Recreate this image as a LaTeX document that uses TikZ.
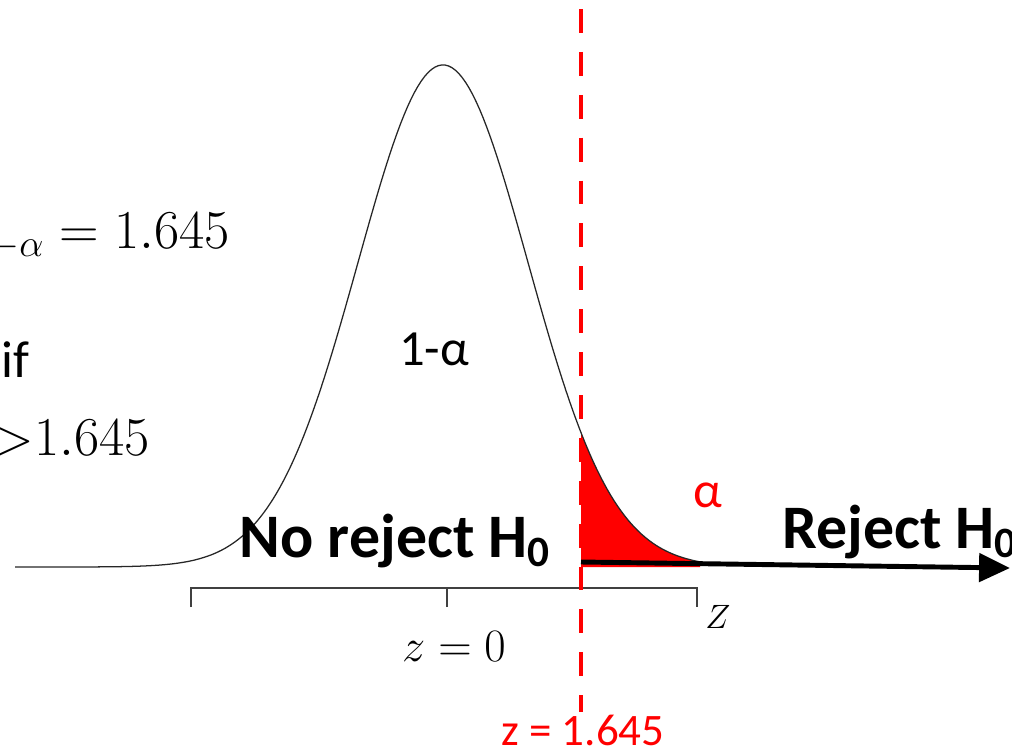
\documentclass[tikz,border=0pt]{standalone}
\usepackage{fix-cm}
\usepackage{fontspec}
\setmainfont{Carlito}
\usetikzlibrary{arrows.meta}

\begin{document}
\begin{tikzpicture}[x=0.025cm, y=-0.025cm,
            curve/.style={draw=black!85, line width=0.9pt},
            tail/.style={fill=red},
            axis/.style={draw=black!75, line width=1.1pt},
            critline/.style={draw=red, line width=3.3pt, dash pattern=on 17pt off 13.5pt},
            rejarrow/.style={draw=black, line width=3.5pt, -{Triangle[length=22pt, width=20pt]}},
            region/.style={font=\fontsize{44}{50}\selectfont\bfseries, inner sep=0pt},
            textlabel/.style={font=\fontsize{36}{42}\selectfont, inner sep=0pt},
            mathlabel/.style={font=\fontsize{33}{40}\selectfont, inner sep=0pt},
            biglabel/.style={font=\fontsize{39}{46}\selectfont, inner sep=0pt}
        ]
        \useasboundingbox (0,0) rectangle (1012,750);
        \clip (0,0) rectangle (1012,750);

        % Kurve
        \fill[tail] plot[domain=581:700, samples=60] (\x,{567-502*exp(-0.5*((\x-443)/85)^2)}) -- (700,567) -- (581,567) -- cycle;
        \draw[curve] plot[domain=15:700, samples=200] (\x,{567-502*exp(-0.5*((\x-443)/85)^2)});

        % Achse
        \coordinate (lo) at (191,607);
        \coordinate (mid) at (447,607);
        \coordinate (hi) at (697,607);
        \draw[axis] (lo) -- (lo |- 0,588) -- (hi |- 0,588) -- (hi);
        \draw[axis] (mid) -- (mid |- 0,588);

        % kritischer Wert
        \coordinate (ctop) at (581,9);
        \coordinate (cbot) at (581,712);
        \draw[critline] (ctop) -- (cbot);
        \coordinate (rstart) at (581,562);
        \coordinate (rend) at (1010,568);
        \draw[rejarrow] (rstart) -- (rend);

        % Texte
        \node[region, anchor=base] (keep) at (395,557) {No reject H\textsubscript{0}};
        \node[region, anchor=base west] (reject) at (782,548) {Reject H\textsubscript{0}};
        \node[textlabel, anchor=base] (area) at (434,365) {1-α};
        \node[textlabel, text=red, anchor=base] (alpha) at (708,507) {α};
        \node[textlabel, text=red, anchor=base, font=\fontsize{32}{38}\selectfont] (zcrit) at (583,745) {z = 1.645};
        \node[mathlabel, anchor=base] (zero) at (454,661) {$z = 0$};
        \node[mathlabel, anchor=base west, font=\fontsize{24}{30}\selectfont] (zaxis) at (705,628) {$Z$};
        \node[biglabel, anchor=base east] (zval) at (230,248) {$z_{1-\alpha} = 1.645$};
        \node[textlabel, anchor=base west, font=\fontsize{37}{44}\selectfont] (cond) at (1,377) {if};
        \node[biglabel, anchor=base east] (ineq) at (150,455) {$z{>}1.645$};

    \end{tikzpicture}
\end{document}
